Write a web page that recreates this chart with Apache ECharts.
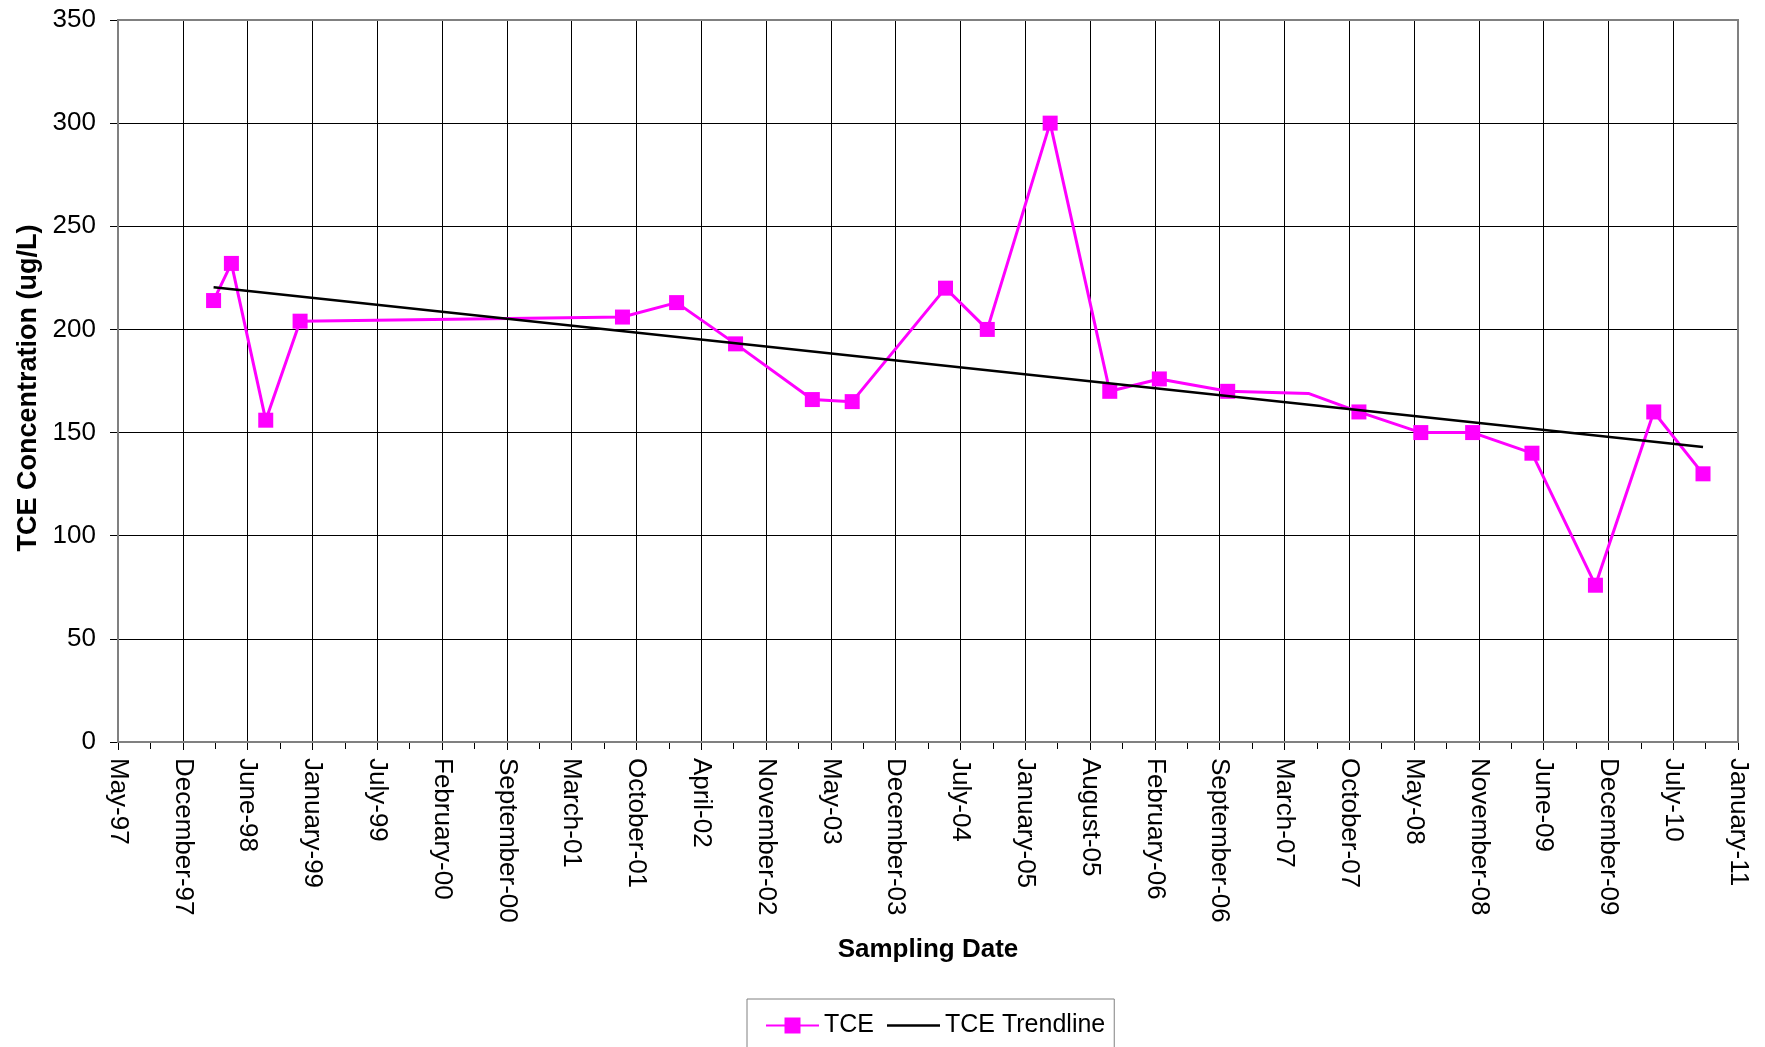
<!DOCTYPE html>
<html>
<head>
<meta charset="utf-8">
<script src="https://cdn.jsdelivr.net/npm/echarts@6/dist/echarts.min.js"></script>
<style>
html,body{margin:0;padding:0;background:#fff;}
#chart{width:1765px;height:1047px;}
</style>
</head>
<body>
<div id="chart"></div>
<script>
// ---- data ----
var axisStartDate = '1997-05-20';
var sampleDates = ['1998-03-11','1998-05-05','1998-08-19','1998-12-03','2001-08-24','2002-02-07',
  '2002-08-08','2003-04-02','2003-08-03','2004-05-17','2004-09-23','2005-04-05','2005-10-06',
  '2006-03-08','2006-10-05','2007-06-11','2007-11-14','2008-05-23','2008-10-30','2009-05-01',
  '2009-11-13','2010-05-12','2010-10-11'];
var tceValues = [214,232,156,204,206,213,193,166,165,220,200,300,170,176,170,169,160,150,150,140,76,160,130];
var unmarkedPoints = [15];
var trendDates = ['1998-03-11','2010-10-11'];
var trendValues = [220.4,143];
var xTickLabels = ['May-97','December-97','June-98','January-99','July-99','February-00','September-00',
  'March-01','October-01','April-02','November-02','May-03','December-03','July-04','January-05',
  'August-05','February-06','September-06','March-07','October-07','May-08','November-08','June-09',
  'December-09','July-10','January-11'];
var yTickLabels = ['0','50','100','150','200','250','300','350'];

// ---- build ----
var DAY = 86400000;
function dayOffset(s){
  var p = s.split('-');
  var a = axisStartDate.split('-');
  return (Date.UTC(+p[0], +p[1]-1, +p[2]) - Date.UTC(+a[0], +a[1]-1, +a[2])) / DAY;
}
var FONT = "'Liberation Sans', Arial, sans-serif";
var tceData = sampleDates.map(function(d,i){
  var item = {value:[dayOffset(d), tceValues[i]]};
  if (unmarkedPoints.indexOf(i) >= 0) item.symbol = 'none';
  return item;
});
var trendData = trendDates.map(function(d,i){ return [dayOffset(d), trendValues[i]]; });
var xInterval = 200;

var chart = echarts.init(document.getElementById('chart'), null, {renderer:'canvas'});
chart.setOption({
  animation:false,
  backgroundColor:'#fff',
  textStyle:{fontFamily:FONT, color:'#000'},
  grid:{left:118, top:20, right:27, bottom:305, show:true, borderColor:'#808080', borderWidth:2, z:1},
  xAxis:{
    type:'value', min:0, max:xInterval*(xTickLabels.length-1), interval:xInterval,
    name:'Sampling Date', nameLocation:'middle', nameGap:195,
    nameTextStyle:{fontSize:26, fontWeight:'bold', color:'#000', fontFamily:FONT},
    axisLine:{show:true, lineStyle:{color:'#808080', width:2}},
    axisTick:{show:true, length:8, lineStyle:{color:'#000', width:1}},
    minorTick:{show:true, splitNumber:2, length:7, lineStyle:{color:'#000', width:1}},
    splitLine:{show:true, lineStyle:{color:'#000', width:1}},
    axisLabel:{rotate:-90, margin:16, fontSize:26, color:'#000', fontFamily:FONT,
      formatter:function(v){ return xTickLabels[Math.round(v/xInterval)] || ''; }}
  },
  yAxis:{
    type:'value', min:0, max:350, interval:50,
    name:'TCE Concentration (ug/L)', nameLocation:'middle', nameGap:74,
    nameTextStyle:{fontSize:27, fontWeight:'bold', color:'#000', fontFamily:FONT, padding:[0,14,0,0]},
    axisLine:{show:true, lineStyle:{color:'#808080', width:2}},
    axisTick:{show:true, length:8, lineStyle:{color:'#000', width:1}},
    splitLine:{show:true, lineStyle:{color:'#000', width:1}},
    axisLabel:{margin:22, fontSize:26, color:'#000', fontFamily:FONT,
      formatter:function(v){ return yTickLabels[Math.round(v/50)]; }}
  },
  legend:{
    left:747, top:999, orient:'horizontal',
    padding:[14,9,22,18], itemGap:13, itemWidth:53, itemHeight:20,
    borderColor:'#808080', borderWidth:1, backgroundColor:'#fff',
    textStyle:{fontSize:25, color:'#000', fontFamily:FONT},
    data:[
      {name:'TCE'},
      {name:'TCE Trendline', icon:'path://M0,0 M53,20 M0,8.75 L53,8.75 L53,11.25 L0,11.25 Z'}
    ]
  },
  series:[
    {name:'TCE', type:'line', data:tceData, symbol:'rect', symbolSize:15,
     lineStyle:{color:'#FF00FF', width:3}, itemStyle:{color:'#FF00FF'}, z:3},
    {name:'TCE Trendline', type:'line', data:trendData, symbol:'none', showSymbol:false,
     lineStyle:{color:'#000', width:2.5}, itemStyle:{color:'#000'}, z:4}
  ]
});
</script>
</body>
</html>
